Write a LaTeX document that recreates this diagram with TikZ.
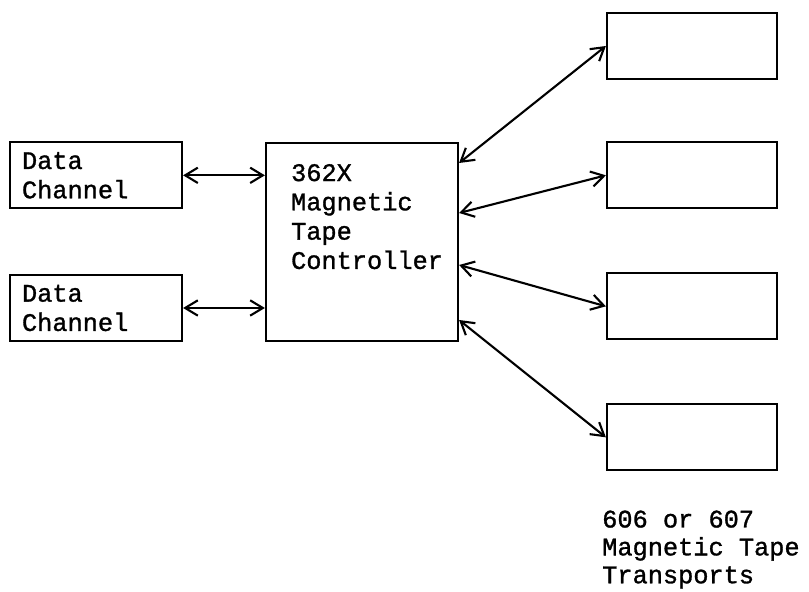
\documentclass[tikz,border=0pt]{standalone}
\usepackage{fontspec}
\setmonofont[FakeBold=1.2]{Liberation Mono}
\usetikzlibrary{arrows.meta}

\tikzset{
  unit/.style={draw, line width=1.9pt, minimum width=5.16cm, minimum height=1.98cm},
  chantext/.style={font=\ttfamily\fontsize{21.6}{25}\selectfont, align=left, text width=4.44cm, inner xsep=0.36cm},
  plaintext/.style={font=\ttfamily\fontsize{21.6}{25}\selectfont, align=left, inner sep=0pt},
  link/.style={line width=1.8pt, {Straight Barb[length=0.38cm,width=0.46cm]}-{Straight Barb[length=0.38cm,width=0.46cm]}}
}

\begin{document}
\begin{tikzpicture}
\useasboundingbox (0,0) rectangle (24.27,17.76);

% Data channels
\node[unit, chantext] (dc1) at (2.88,12.5) {Data\\Channel};
\node[unit, chantext] (dc2) at (2.88,8.52) {Data\\Channel};

% Controller
\node[unit, minimum width=5.76cm, minimum height=5.94cm] (ctrl) at (10.86,10.5) {};
\node[plaintext, anchor=north west] (ctrllabel) at ([xshift=0.78cm,yshift=-0.66cm]ctrl.north west) {362X\\Magnetic\\Tape\\Controller};

% Tape transports
\node[unit, minimum width=5.1cm] (tr1) at (20.76,16.38) {};
\node[unit, minimum width=5.1cm] (tr2) at (20.76,12.5) {};
\node[unit, minimum width=5.1cm] (tr3) at (20.76,8.57) {};
\node[unit, minimum width=5.1cm] (tr4) at (20.76,4.64) {};

% Links
\draw[link] (dc1.east) -- (dc1.east -| ctrl.west);
\draw[link] (dc2.east) -- (dc2.east -| ctrl.west);
\draw[link] ([yshift=2.37cm]ctrl.east) -- (tr1.west);
\draw[link] ([yshift=0.87cm]ctrl.east) -- (tr2.west);
\draw[link] ([yshift=-0.69cm]ctrl.east) -- (tr3.west);
\draw[link] ([yshift=-2.34cm]ctrl.east) -- (tr4.west);

% Caption
\node[plaintext, anchor=north west, font=\ttfamily\fontsize{21.6}{23.8}\selectfont] (trlabel) at (18.06,2.45) {606 or 607\\Magnetic Tape\\Transports};
\end{tikzpicture}
\end{document}
